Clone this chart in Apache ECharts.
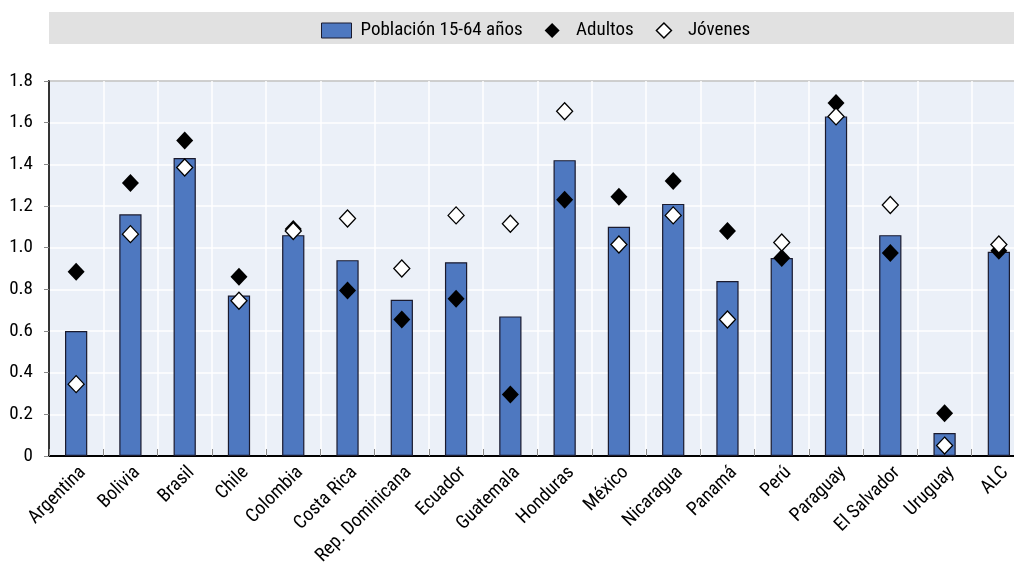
<!DOCTYPE html>
<html><head><meta charset="utf-8">
<script src="https://cdn.jsdelivr.net/npm/echarts@6/dist/echarts.min.js"></script>
<style>html,body{margin:0;padding:0;background:#fff}#c{width:1014px;height:562px}</style>
</head><body><div id="c"></div>
<script>
const categories = ["Argentina","Bolivia","Brasil","Chile","Colombia","Costa Rica","Rep. Dominicana","Ecuador","Guatemala","Honduras","México","Nicaragua","Panamá","Perú","Paraguay","El Salvador","Uruguay","ALC"];
const poblacion = [0.60,1.16,1.43,0.77,1.06,0.94,0.75,0.93,0.67,1.42,1.10,1.21,0.84,0.95,1.63,1.06,0.11,0.98];
const adultos   = [0.885,1.31,1.515,0.86,1.09,0.795,0.655,0.755,0.295,1.23,1.245,1.32,1.08,0.95,1.695,0.975,0.205,0.985];
const jovenes   = [0.345,1.065,1.385,0.745,1.08,1.14,0.90,1.155,1.115,1.655,1.015,1.155,0.655,1.025,1.63,1.205,0.05,1.015];
const yTicks = [0,0.2,0.4,0.6,0.8,1.0,1.2,1.4,1.6,1.8];
const FONT = "'Roboto Condensed','Liberation Sans Narrow',sans-serif";
const DIAMOND = 'path://M0,-1L1,0L0,1L-1,0Z';

const chart = echarts.init(document.getElementById('c'));
chart.setOption({
  animation:false,
  textStyle:{fontFamily:FONT},
  graphic:[{type:'rect',shape:{x:49,y:12,width:965,height:32},style:{fill:'#e1e1e1'},z:-1}],
  legend:{
    top:16, left:316, itemGap:22, itemWidth:30, itemHeight:15, symbolKeepAspect:true,
    textStyle:{fontFamily:FONT,fontSize:19,color:'#000',padding:[0,0,0,4]},
    data:[
      {name:'Población 15-64 años',icon:'rect',itemStyle:{color:'#4e78c0',borderColor:'#1a1a2e',borderWidth:1}},
      {name:'Adultos',icon:DIAMOND,itemStyle:{color:'#000',opacity:1}},
      {name:'Jóvenes',icon:DIAMOND,itemStyle:{color:'#fff',borderColor:'#000',borderWidth:1.5,opacity:1}}
    ]
  },
  grid:{left:49,width:977,top:81,height:375,outerBoundsMode:'none',show:true,backgroundColor:'#ebf0f8',borderColor:'#000',borderWidth:1.5},
  xAxis:{
    type:'category',data:categories,
    axisLine:{lineStyle:{color:'#000',width:2}},
    axisTick:{show:true,inside:true,length:7,lineStyle:{color:'#888'}},
    splitLine:{show:true,lineStyle:{color:'#fff',width:1.5}},
    axisLabel:{rotate:45,fontSize:19,color:'#000',fontFamily:FONT,margin:7,interval:0,verticalAlign:'top'}
  },
  yAxis:{
    type:'value',min:0,max:1.8,interval:0.2,
    axisLine:{show:true,lineStyle:{color:'#000',width:1.5}},
    axisTick:{show:true,length:5,lineStyle:{color:'#888'}},
    splitLine:{lineStyle:{color:'#fff',width:1.5}},
    axisLabel:{fontSize:19,color:'#000',fontFamily:FONT,margin:16,
      formatter:v=>{const t=yTicks.find(x=>Math.abs(x-v)<1e-9);return t===0?'0':t.toFixed(1);}}
  },
  series:[
    {name:'Población 15-64 años',type:'bar',data:poblacion,barWidth:'41%',
     itemStyle:{color:'#4e78c0',borderColor:'#1a1a2e',borderWidth:1.2}},
    {name:'Adultos',type:'scatter',data:adultos,symbol:'diamond',symbolSize:[17,18],
     itemStyle:{color:'#000',opacity:1},z:3},
    {name:'Jóvenes',type:'scatter',data:jovenes,symbol:'diamond',symbolSize:[16,17],
     itemStyle:{color:'#fff',borderColor:'#000',borderWidth:1.3,opacity:1},z:4}
  ]
});
</script></body></html>
